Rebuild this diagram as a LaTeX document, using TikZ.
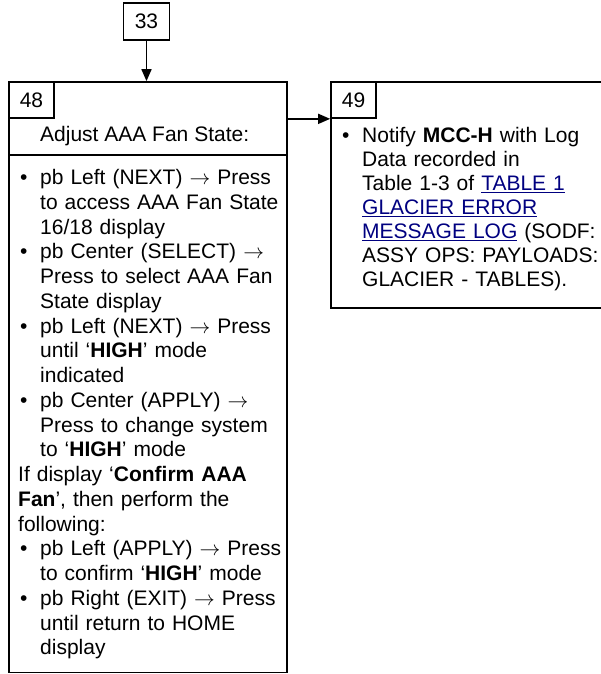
\documentclass[tikz,border=0pt]{standalone}
\usepackage{fontspec}
\setmainfont{Liberation Sans}
\usepackage{xcolor}
\usepackage{tikz}
\usetikzlibrary{arrows.meta}
\definecolor{lnkblue}{RGB}{0,0,128}
\newcommand{\bpt}{\hangindent=22pt\hangafter=1\makebox[22pt][l]{\hspace{2pt}\textbullet}}
\newcommand{\lnk}[1]{\textcolor{lnkblue}{\underline{#1}}}

\begin{document}
\begin{tikzpicture}[x=1pt, y=-1pt,
  panel/.style={draw, line width=1.7pt, inner sep=0pt},
  tagbox/.style={draw, line width=1.7pt, inner sep=0pt, minimum width=45pt, minimum height=36pt},
  body/.style={anchor=base west, inner sep=0pt, text width=266pt},
  arr/.style={-{Triangle[length=12pt,width=10pt]}, line width=1.7pt},
  every node/.style={font=\fontsize{21pt}{24.75pt}\selectfont}
]
\useasboundingbox (0,0) rectangle (600,674);

% Step 33
\node[tagbox, minimum width=46pt, minimum height=37pt] (blk33) at (146.5,21.5) {33};

% Step 48
\node[panel, minimum width=278pt, minimum height=590.5pt] (blk48) at (148,377.25) {};
\node[tagbox, anchor=north west] (tag48) at (blk48.north west) {48};
\node[anchor=base west, inner sep=0pt] (ttl48) at (40,142) {Adjust AAA Fan State:};
\coordinate (rule48) at (0,155);
\draw[line width=1.7pt] (blk48.west |- rule48) -- (blk48.east |- rule48);
\node[body] (txt48) at (18,184.5) {\raggedright
\bpt pb Left (NEXT) $\rightarrow$ Press\newline
to access AAA Fan State\newline
16/18 display\par
\bpt pb Center (SELECT) $\rightarrow$\newline
Press to select AAA Fan\newline
State display\par
\bpt pb Left (NEXT) $\rightarrow$ Press\newline
until ‘\textbf{HIGH}’ mode\newline
indicated\par
\bpt pb Center (APPLY) $\rightarrow$\newline
Press to change system\newline
to ‘\textbf{HIGH}’ mode\par
If display ‘\textbf{Confirm AAA}\newline
\textbf{Fan}’, then perform the\newline
following:\par
\bpt pb Left (APPLY) $\rightarrow$ Press\newline
to confirm ‘\textbf{HIGH}’ mode\par
\bpt pb Right (EXIT) $\rightarrow$ Press\newline
until return to HOME\newline
display\par};

% Step 49
\node[panel, minimum width=279pt, minimum height=226pt] (blk49) at (470.5,195) {};
\node[tagbox, anchor=north west] (tag49) at (blk49.north west) {49};
\node[body, font=\fontsize{21pt}{24pt}\selectfont] (txt49) at (340,142.7) {\raggedright
\bpt Notify \textbf{MCC-H} with Log\newline
Data recorded in\newline
Table 1-3 of \lnk{TABLE 1}\newline
\lnk{GLACIER ERROR}\newline
\lnk{MESSAGE LOG} (SODF:\newline
ASSY OPS: PAYLOADS:\newline
GLACIER - TABLES).\par};

% Arrows
\draw[arr] (blk33.south) -- (blk33.south |- blk48.north);
\draw[arr] (blk48.east |- tag48.south) -- (blk49.west |- tag48.south);

\end{tikzpicture}
\end{document}
